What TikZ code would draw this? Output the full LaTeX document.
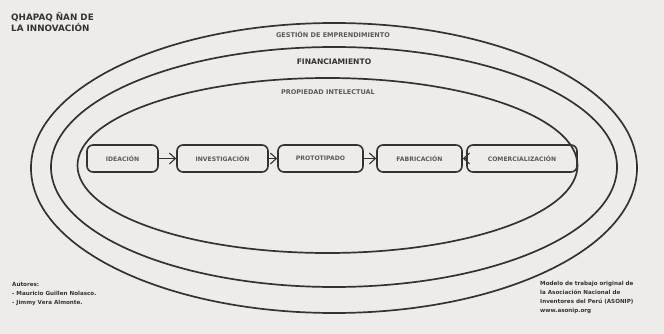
\documentclass[tikz,border=0pt]{standalone}
\usepackage{fontspec}
\setmainfont{DejaVu Sans}
\usetikzlibrary{arrows.meta}
\definecolor{fondo}{HTML}{EDECEA}
\definecolor{tinta}{HTML}{333333}
\definecolor{gris}{HTML}{5A5A5A}

\begin{document}
\begin{tikzpicture}[x=1pt,y=-1pt, > = {Straight Barb[length=6pt,width=11pt]},
        etapa/.style={draw=tinta,line width=1.6pt,rounded corners=6pt,minimum height=27pt,
            inner sep=0pt,text=gris,font=\fontsize{6.1}{7}\selectfont\bfseries},
        capa/.style={text=gris,font=\fontsize{6.5}{8}\selectfont\bfseries},
        nota/.style={align=left,anchor=north west,text=tinta,inner sep=0pt,
            font=\fontsize{5.6}{9}\selectfont\bfseries}]
            \fill[fondo] (0,0) rectangle (664,334);
            \draw[tinta,line width=1.7pt] (334,168) ellipse [x radius=303, y radius=145];
            \draw[tinta,line width=1.7pt] (334,167) ellipse [x radius=283, y radius=120];
            \draw[tinta,line width=1.7pt] (327.5,165.5) ellipse [x radius=250, y radius=87.5];
            % titulo y capas
            \node[anchor=north west,align=left,inner sep=0pt,text=tinta,
                font=\fontsize{8.8}{11}\selectfont\bfseries] (titulo) at (11,12) {QHAPAQ ÑAN DE\\LA INNOVACIÓN};
            \node[capa] (gestion) at (333,35) {GESTIÓN DE EMPRENDIMIENTO};
            \node[capa,text=tinta,font=\fontsize{7.6}{9}\selectfont\bfseries] (financ) at (334,62) {FINANCIAMIENTO};
            \node[capa] (propiedad) at (328,92) {PROPIEDAD INTELECTUAL};
            % etapas
            \node[etapa,minimum width=71pt] (ideacion) at (122.5,158.5) {IDEACIÓN};
            \node[etapa,minimum width=91pt] (investigacion) at (222.5,158.5) {INVESTIGACIÓN};
            \node[etapa,minimum width=85pt] (prototipado) at (320.5,158.5) {PROTOTIPADO};
            \node[etapa,minimum width=85pt] (fabricacion) at (419.5,158.5) {FABRICACIÓN};
            \node[etapa,minimum width=110pt] (comercial) at (522,158.5) {COMERCIALIZACIÓN};
            \draw[->,tinta,line width=1.1pt] (ideacion) -- (investigacion);
            \draw[->,tinta,line width=1.1pt] (investigacion) -- (prototipado);
            \draw[->,tinta,line width=1.1pt] (prototipado) -- (fabricacion);
            \draw[->,tinta,line width=1.1pt] (comercial.west) -- (fabricacion);
            % notas
            \node[nota] (autores) at (12,282) {Autores:\\- Mauricio Guillen Nolasco.\\- Jimmy Vera Almonte.};
            \node[nota] (modelo) at (540,281) {Modelo de trabajo original de\\la Asociación Nacional de\\Inventores del Perú (ASONIP)\\www.asonip.org};
        \end{tikzpicture}
\end{document}
